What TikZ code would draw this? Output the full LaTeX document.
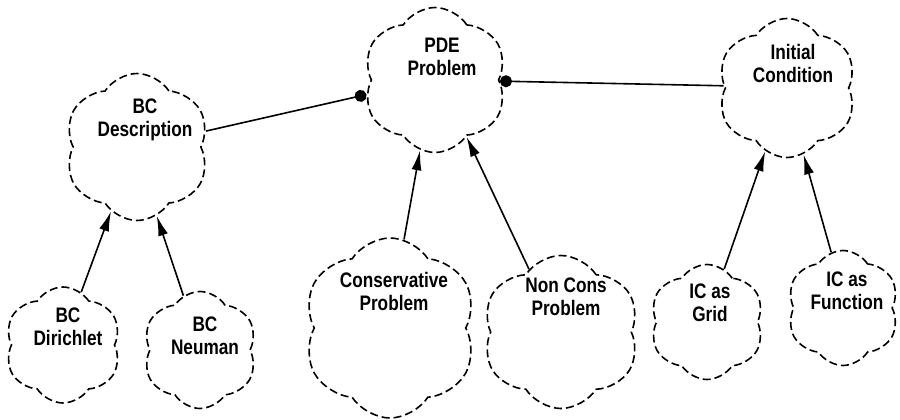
\documentclass[tikz,border=0pt]{standalone}
\usepackage{fontspec}
\setmainfont{Liberation Sans}[FakeStretch=0.82]
\usepackage{tikz}
\usetikzlibrary{arrows.meta,shapes.symbols}

\begin{document}
\begin{tikzpicture}[x=1pt, y=-1pt,
    cls/.style={cloud, cloud puffs=6, cloud puff arc=115, aspect=1, draw,
      line width=1.6pt, dash pattern=on 8pt off 4pt, inner sep=0pt},
    txt/.style={align=center, font=\fontsize{21}{23}\selectfont\bfseries, inner sep=0pt},
    isa/.style={line width=1.6pt, -{Latex[length=20pt, width=10pt]}},
    has/.style={line width=1.6pt, {Circle[length=12pt]}-}]
  \useasboundingbox (0,0) rectangle (900,420);
  % classes
  \node [cls, minimum width=146pt, minimum height=147pt] (BCD) at (137,147) {};
  \node [cls, minimum width=145pt, minimum height=145pt] (PDE) at (435,80) {};
  \node [cls, minimum width=140pt, minimum height=139pt] (IC) at (787,88) {};
  \node [cls, minimum width=117pt, minimum height=116pt] (DIR) at (63,345) {};
  \node [cls, minimum width=115pt, minimum height=117pt] (NEU) at (200,350) {};
  \node [cls, minimum width=175pt, minimum height=180pt] (CONS) at (390,328) {};
  \node [cls, minimum width=158pt, minimum height=153pt] (NCONS) at (561,332) {};
  \node [cls, minimum width=115pt, minimum height=115pt] (GRID) at (707,322) {};
  \node [cls, minimum width=113pt, minimum height=115pt] (FUNC) at (843,308) {};
  % names
  \node [txt] (BCDt) at (145,120) {BC\\Description};
  \node [txt] (PDEt) at (442,57) {PDE\\Problem};
  \node [txt] (ICt) at (793,63) {Initial\\Condition};
  \node [txt] (DIRt) at (68,327) {BC\\Dirichlet};
  \node [txt] (NEUt) at (205,336) {BC\\Neuman};
  \node [txt] (CONSt) at (394,291) {Conservative\\Problem};
  \node [txt] (NCONSt) at (566,297) {Non Cons\\Problem};
  \node [txt] (GRIDt) at (710,303) {IC as\\Grid};
  \node [txt] (FUNCt) at (847,291) {IC as\\Function};
  % has
  \draw [has] (PDE.192) -- (BCD.13);
  \draw [has] (PDE.-1) -- (IC.178);
  % is a
  \draw [isa] (DIR.71) -- (BCD.-112);
  \draw [isa] (NEU.107) -- (BCD.-74);
  \draw [isa] (CONS.81) -- (PDE.-102);
  \draw [isa] (NCONS.117) -- (PDE.-61);
  \draw [isa] (GRID.72) -- (IC.-109);
  \draw [isa] (FUNC.102) -- (IC.-76);
\end{tikzpicture}
\end{document}
